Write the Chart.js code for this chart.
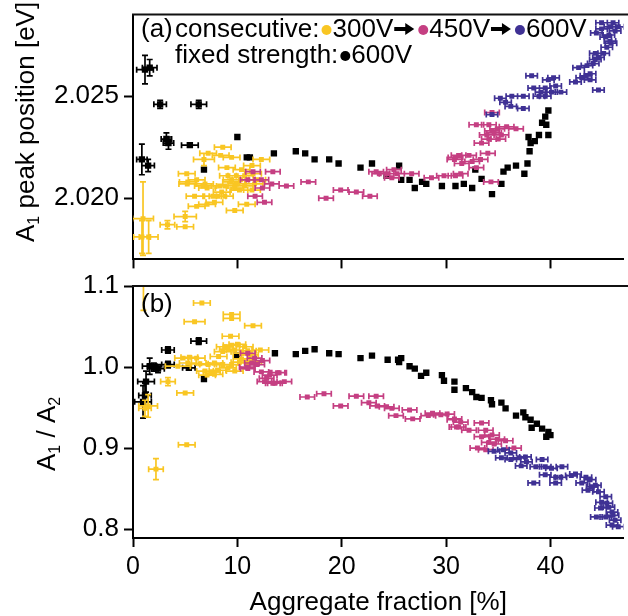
<!DOCTYPE html>
<html>
<head>
<meta charset="utf-8">
<script src="https://cdn.jsdelivr.net/npm/chart.js@4.4.1/dist/chart.umd.min.js"></script>
<style>
  html, body { margin: 0; padding: 0; background: #fff; }
  #wrap { position: relative; width: 628px; height: 616px; overflow: hidden; }
  #wrap canvas { position: absolute; left: 0; }
  #topChart { top: -6px; }
  #bottomChart { top: 264px; }
</style>
</head>
<body>
<div id="wrap">
  <canvas id="topChart" width="628" height="286"></canvas>
  <canvas id="bottomChart" width="628" height="352"></canvas>
</div>
<script>
// ==============================
// Data: [aggregate %, value, x error, y error]
// ==============================
const xTicks = [0, 10, 20, 30, 40];
const topYTicks = [2.020, 2.025];
const bottomYTicks = [0.8, 0.9, 1.0, 1.1];

// (a) A1 peak position [eV]
const topBlack = [
  [1.15, 2.0263, 0.8, 0.0007], [1.6, 2.0264, 0.7, 0.0004], [2.6, 2.0246, 0.6, 0.0002],
  [6.3, 2.0246, 0.75, 0.0002], [3.2, 2.0229, 0.5, 0.0003], [3.4, 2.0227, 0.5, 0.0003],
  [5.45, 2.0226, 0.8, 0.0001], [0.85, 2.0219, 0.5, 0.00075], [1.45, 2.0216, 0.6, 0.0003],
  [10.0, 2.0230], [6.8, 2.0214], [10.9, 2.0220], [11.2, 2.0220], [13.5, 2.0222],
  [15.6, 2.0223], [16.5, 2.0222], [17.4, 2.0219], [18.8, 2.0219], [19.7, 2.0217],
  [21.8, 2.0215], [22.9, 2.0217], [24.3, 2.0211], [25.5, 2.0216], [25.7, 2.0209],
  [26.5, 2.0209], [27.0, 2.0205], [27.7, 2.0208], [28.1, 2.0207], [29.6, 2.0206],
  [30.9, 2.0206], [31.7, 2.0207], [32.5, 2.0205], [32.8, 2.0214], [33.4, 2.02095],
  [34.4, 2.0202], [35.3, 2.0207], [35.5, 2.0213], [35.9, 2.0215], [36.7, 2.0216],
  [37.5, 2.0212], [37.8, 2.0217], [38.0, 2.0223], [38.1, 2.0227], [37.9, 2.0230],
  [38.5, 2.0228], [38.9, 2.0231], [39.8, 2.0231], [39.2, 2.0237], [39.6, 2.0236],
  [39.5, 2.0240], [39.8, 2.0243]
];
const topYellow = [
  [0.96, 2.0190, 1.0, 0.0018], [0.86, 2.0181, 0.8, 0.0008], [1.5, 2.0181, 0.9, 0.0008],
  [3.3, 2.0187, 0.7, 0.0002], [5.0, 2.0191, 1.07, 0.00025], [5.0, 2.0186],
  [6.1, 2.0196], [7.1, 2.0197], [7.8, 2.0198], [5.9, 2.0201], [7.65, 2.0201],
  [8.8, 2.0201], [8.1, 2.0201], [9.75, 2.0194], [10.9, 2.0197], [5.15, 2.0212],
  [5.25, 2.0208], [5.2, 2.0207], [6.1, 2.0209], [6.9, 2.0207], [6.7, 2.0206],
  [6.8, 2.0219, 1.0, 0.0003], [7.2, 2.0222], [8.6, 2.0225], [8.4, 2.0221], [9.45, 2.0220],
  [9.0, 2.0215], [10.4, 2.0214], [11.4, 2.0216], [12.3, 2.0219], [8.8, 2.0206],
  [9.1, 2.0211], [9.45, 2.0209], [9.9, 2.0207], [9.75, 2.0205], [10.2, 2.0204],
  [10.7, 2.0206], [11.4, 2.0204], [11.65, 2.0207], [11.5, 2.0212], [10.7, 2.0211],
  [9.9, 2.0211], [11.9, 2.0209], [7.1, 2.0205], [8.3, 2.0206], [9.4, 2.0208],
  [10.3, 2.0209], [8.5, 2.0203]
];
const topMagenta = [
  [11.5, 2.0213], [13.4, 2.0213], [11.0, 2.0209], [12.3, 2.0209], [12.4, 2.0205],
  [13.3, 2.0207], [14.7, 2.0206], [16.8, 2.0208], [11.7, 2.0201], [12.6, 2.0198],
  [19.9, 2.0204], [21.4, 2.0203], [18.5, 2.0200], [22.7, 2.0201], [23.3, 2.0213],
  [23.6, 2.0212], [24.3, 2.0212], [24.8, 2.0210], [25.0, 2.0214], [25.3, 2.0212],
  [26.7, 2.0212], [28.6, 2.0210], [29.8, 2.0211], [30.9, 2.0211], [31.4, 2.0212],
  [30.8, 2.0219], [34.3, 2.0208], [30.9, 2.0220], [31.2, 2.0221], [32.2, 2.0221],
  [31.5, 2.0217], [32.5, 2.0218], [33.3, 2.0219], [34.0, 2.0222], [32.9, 2.0215],
  [33.4, 2.0227], [34.1, 2.0229], [32.9, 2.0236], [34.1, 2.0236], [34.4, 2.0233],
  [34.9, 2.0234], [35.3, 2.0231], [35.8, 2.0235], [36.7, 2.0234], [33.9, 2.0231],
  [34.4, 2.0242], [35.0, 2.0229], [34.6, 2.0232]
];
const topBlue = [
  [34.4, 2.0241], [35.2, 2.0249], [35.7, 2.0247], [36.2, 2.0245], [36.3, 2.0250],
  [37.4, 2.0244], [37.4, 2.0250], [38.4, 2.0254], [38.2, 2.0260], [39.1, 2.0252],
  [38.9, 2.0250], [39.5, 2.0254], [39.8, 2.0258], [40.3, 2.0259], [40.1, 2.0252],
  [41.0, 2.0252], [40.5, 2.0255], [39.5, 2.0250], [42.4, 2.0257], [43.0, 2.0259],
  [43.8, 2.0258], [44.6, 2.0253], [43.8, 2.0261], [42.7, 2.0264], [43.5, 2.0265],
  [44.1, 2.0266], [44.6, 2.0269], [45.1, 2.0271], [44.3, 2.0271], [45.4, 2.0274],
  [45.7, 2.0277], [45.6, 2.0280], [44.9, 2.0283], [45.7, 2.0284], [46.5, 2.0284],
  [46.2, 2.0282], [44.9, 2.0286], [44.4, 2.0281], [45.8, 2.0276], [44.3, 2.0268],
  [43.4, 2.0260], [46.0, 2.0286], [45.3, 2.0279]
];

// (b) A1 / A2
const bottomBlack = [
  [0.96, 0.957, 0.8, 0.02], [1.25, 0.982, 0.8, 0.013], [1.6, 1.001, 0.7, 0.01],
  [1.15, 0.965, 0.6, 0.015], [2.4, 0.998, 0.6, 0.005], [2.0, 1.0, 0.6, 0.005],
  [3.35, 1.003, 0.6, 0.004], [3.35, 1.021, 0.6, 0.004], [6.3, 1.032, 0.75, 0.004],
  [5.35, 0.999, 0.6], [6.8, 0.985], [9.95, 1.014], [13.6, 1.017], [15.6, 1.016],
  [16.5, 1.020], [17.4, 1.022], [18.8, 1.017], [19.7, 1.016], [21.8, 1.011],
  [22.9, 1.014], [24.4, 1.009], [25.5, 1.006], [25.7, 1.011], [25.4, 1.009],
  [26.5, 1.001], [27.0, 0.998], [27.6, 0.989], [28.1, 0.993], [29.6, 0.990],
  [29.8, 0.983], [30.8, 0.982], [30.8, 0.972], [31.9, 0.974], [32.5, 0.969],
  [32.9, 0.963], [33.4, 0.962], [34.3, 0.959], [34.4, 0.954], [35.3, 0.956],
  [35.7, 0.949], [36.7, 0.940], [37.4, 0.944], [37.6, 0.938], [38.1, 0.935],
  [38.2, 0.925], [38.7, 0.930], [39.2, 0.924], [39.8, 0.920], [39.6, 0.914],
  [40.0, 0.916]
];
const bottomYellow = [
  [1.0, 1.13, 0.6, 0.06], [6.6, 1.079], [5.9, 1.056, 1.0], [9.45, 1.065], [9.45, 1.060],
  [11.5, 1.051], [9.35, 1.038], [8.8, 1.025], [9.45, 1.027], [10.0, 1.028],
  [10.7, 1.025], [8.6, 1.019], [9.75, 1.021], [10.4, 1.017], [11.2, 1.015],
  [12.2, 1.021], [4.8, 1.011], [5.4, 1.012], [6.1, 1.011], [5.25, 1.005],
  [6.4, 1.004], [7.2, 1.003], [7.8, 1.005], [8.6, 1.003], [9.45, 1.003],
  [10.2, 1.006], [10.9, 1.005], [11.5, 1.007], [4.3, 1.001, 1.2], [6.9, 0.995],
  [7.55, 0.994], [8.1, 0.996], [7.1, 0.990], [7.8, 0.991], [9.1, 0.999],
  [9.75, 0.995], [3.35, 0.982, 0.7, 0.005], [5.0, 0.968], [1.45, 0.952, 0.9, 0.014],
  [1.15, 0.949, 0.6, 0.01], [5.15, 0.904], [2.2, 0.874, 0.7, 0.013], [9.1, 1.022],
  [10.4, 1.010], [11.0, 1.020], [8.2, 1.013]
];
const bottomMagenta = [
  [11.0, 1.017], [11.65, 1.011], [11.4, 1.005], [10.9, 1.0], [11.9, 1.003],
  [12.3, 0.994], [13.1, 0.990], [13.85, 0.993], [12.6, 0.982], [13.6, 0.980],
  [14.5, 0.982], [12.4, 1.008], [11.0, 0.998], [14.0, 0.993], [12.8, 0.986],
  [13.4, 0.980], [16.7, 0.963], [18.3, 0.967], [19.9, 0.952], [21.4, 0.964],
  [22.6, 0.956], [23.3, 0.964], [23.4, 0.952], [24.3, 0.951], [24.8, 0.949],
  [25.2, 0.940], [26.5, 0.947], [26.8, 0.936], [28.3, 0.940], [28.7, 0.943],
  [29.5, 0.941], [30.1, 0.942], [30.8, 0.936], [31.0, 0.926], [30.8, 0.935],
  [31.4, 0.932], [31.2, 0.926], [32.2, 0.922], [33.4, 0.931], [33.8, 0.922],
  [33.4, 0.914], [34.4, 0.916], [34.9, 0.911], [34.1, 0.907], [33.0, 0.900],
  [33.8, 0.898], [35.7, 0.909], [36.5, 0.900], [34.6, 0.905]
];
const bottomBlue = [
  [34.6, 0.896], [35.5, 0.898], [36.2, 0.894], [35.3, 0.888], [36.2, 0.886],
  [37.0, 0.888], [37.6, 0.889], [37.2, 0.878], [37.7, 0.883], [39.2, 0.886],
  [38.6, 0.877], [39.5, 0.877], [40.1, 0.875], [41.1, 0.877], [39.5, 0.867],
  [40.5, 0.864], [41.0, 0.864], [38.4, 0.857], [40.5, 0.857], [42.4, 0.868],
  [43.4, 0.864], [43.8, 0.861], [43.0, 0.857], [44.3, 0.854], [43.6, 0.848],
  [44.6, 0.846], [45.3, 0.840], [44.9, 0.833], [45.6, 0.827], [45.9, 0.821],
  [44.8, 0.826], [44.4, 0.815], [45.3, 0.815], [46.2, 0.811], [46.5, 0.803],
  [45.9, 0.805], [45.4, 0.832], [46.0, 0.817], [42.0, 0.866], [44.0, 0.852]
];

// ==============================
// Styles
// ==============================
const FONT = '"Liberation Sans", Arial, Helvetica, sans-serif';
const YELLOW = '#F9C623';
const MAGENTA = '#C53F82';
const BLUE = '#3F3194';
const BLACK = '#000000';

// ==============================
// Helpers
// ==============================
const toPoints = (rows, xe) => rows.map(([x, y, ex = xe, ey = 0]) => ({ x, y, ex, ey }));

const series = (rows, color, xe, radius, order) => ({
  data: toPoints(rows, xe),
  pointStyle: 'rect',
  pointRadius: radius,
  pointBackgroundColor: color,
  pointBorderColor: color,
  pointBorderWidth: 0,
  borderColor: color,
  showLine: false,
  order
});

const axisLook = {
  grid: { display: true, drawOnChartArea: false, drawTicks: true, tickLength: 9, tickWidth: 2, tickColor: '#000' },
  border: { display: true, color: '#000', width: 2 }
};

const xTickFont = { family: FONT, size: 25 };
const yTickFont = { family: FONT, size: 26 };

// error bars drawn under each dataset, through the chart scales
const errorBars = {
  id: 'errorBars',
  beforeDatasetDraw(chart, args) {
    const { ctx, chartArea: a, scales: { x, y } } = chart;
    const ds = chart.data.datasets[args.index];
    ctx.save();
    ctx.beginPath();
    ctx.rect(a.left, a.top, a.right - a.left, a.bottom - a.top);
    ctx.clip();
    ctx.strokeStyle = ds.borderColor;
    ctx.lineWidth = 1.7;
    ctx.beginPath();
    ds.data.forEach(p => {
      const px = x.getPixelForValue(p.x);
      const py = y.getPixelForValue(p.y);
      if (p.ex) {
        const l = x.getPixelForValue(p.x - p.ex), r = x.getPixelForValue(p.x + p.ex);
        ctx.moveTo(l, py); ctx.lineTo(r, py);
        ctx.moveTo(l, py - 3); ctx.lineTo(l, py + 3);
        ctx.moveTo(r, py - 3); ctx.lineTo(r, py + 3);
      }
      if (p.ey) {
        const t = y.getPixelForValue(p.y + p.ey), b = y.getPixelForValue(p.y - p.ey);
        ctx.moveTo(px, t); ctx.lineTo(px, b);
        ctx.moveTo(px - 3, t); ctx.lineTo(px + 3, t);
        ctx.moveTo(px - 3, b); ctx.lineTo(px + 3, b);
      }
    });
    ctx.stroke();
    ctx.restore();
  }
};

// top border of each panel
const frame = {
  id: 'frame',
  afterDraw(chart) {
    const { ctx, chartArea: a } = chart;
    ctx.save();
    ctx.strokeStyle = '#111';
    ctx.lineWidth = 2;
    ctx.beginPath();
    ctx.moveTo(a.left - 1, a.top);
    ctx.lineTo(chart.width, a.top);
    ctx.stroke();
    ctx.restore();
  }
};

// text runs with subscripts, e.g. A₁
const drawRuns = (ctx, runs, x, y, size) => {
  let pos = x;
  runs.forEach(([text, sub]) => {
    ctx.font = `${sub ? Math.round(size * 0.6) : size}px ${FONT}`;
    ctx.fillText(text, pos, sub ? y + size * 0.2 : y);
    pos += ctx.measureText(text).width;
  });
};

const yTitle = (runs, x, y) => ({
  id: 'yTitle',
  afterDraw(chart) {
    const { ctx } = chart;
    ctx.save();
    ctx.fillStyle = '#000';
    ctx.textBaseline = 'alphabetic';
    ctx.translate(x, y);
    ctx.rotate(-Math.PI / 2);
    drawRuns(ctx, runs, 0, 0, 26);
    ctx.restore();
  }
});

const dot = (ctx, x, y, color) => {
  ctx.fillStyle = color;
  ctx.beginPath();
  ctx.arc(x, y, 5, 0, Math.PI * 2);
  ctx.fill();
};

// heavy arrow between the legend steps
const arrow = (ctx, x, y) => {
  ctx.save();
  ctx.fillStyle = '#000';
  ctx.fillRect(x, y - 2, 12, 4);
  ctx.beginPath();
  ctx.moveTo(x + 11, y - 6);
  ctx.lineTo(x + 20, y);
  ctx.lineTo(x + 11, y + 6);
  ctx.closePath();
  ctx.fill();
  ctx.restore();
};

// legend of panel (a), in canvas coordinates (canvas starts 6px above the page)
const legendText = {
  id: 'legendText',
  afterDraw(chart) {
    const { ctx } = chart;
    const font = `26px ${FONT}`;
    const base1 = 43, base2 = 69;
    ctx.save();
    ctx.textBaseline = 'alphabetic';
    ctx.fillStyle = '#000';
    ctx.font = font;
    ctx.fillText('(a)', 141, base1);
    ctx.fillText('consecutive:', 175, base1);
    let pos = 175 + ctx.measureText('consecutive:').width + 2;
    const steps = [['300V', YELLOW], ['450V', MAGENTA], ['600V', BLUE]];
    steps.forEach(([label, color], i) => {
      dot(ctx, pos + 5, base1 - 7, color);
      pos += 11;
      ctx.fillStyle = '#000';
      ctx.font = font;
      ctx.fillText(label, pos, base1);
      pos += ctx.measureText(label).width + 1;
      if (i < steps.length - 1) {
        arrow(ctx, pos, base1 - 8);
        pos += 24;
      }
    });
    ctx.font = font;
    ctx.fillStyle = '#000';
    ctx.fillText('fixed strength:', 175, base2);
    pos = 175 + ctx.measureText('fixed strength:').width + 2;
    dot(ctx, pos + 5, base2 - 7, BLACK);
    ctx.fillStyle = '#000';
    ctx.fillText('600V', pos + 11, base2);
    ctx.restore();
  }
};

const panelB = {
  id: 'panelB',
  afterDraw(chart) {
    const { ctx } = chart;
    ctx.save();
    ctx.fillStyle = '#000';
    ctx.font = `26px ${FONT}`;
    ctx.fillText('(b)', 141, 48);
    ctx.restore();
  }
};

const fixedTicks = values => scale => { scale.ticks = values.map(v => ({ value: v })); };

// ==============================
// Charts
// ==============================
Chart.defaults.font.family = FONT;
Chart.defaults.color = '#000';

new Chart(document.getElementById('topChart'), {
  type: 'scatter',
  data: {
    datasets: [
      series(topBlack, BLACK, 0, 4.5, 4),
      series(topYellow, YELLOW, 0.8, 3.5, 3),
      series(topMagenta, MAGENTA, 0.7, 3.5, 2),
      series(topBlue, BLUE, 0.55, 3.5, 1)
    ]
  },
  options: {
    responsive: false,
    animation: false,
    events: [],
    layout: { padding: { top: 20, right: 2, left: 0, bottom: 0 } },
    plugins: { legend: { display: false }, tooltip: { enabled: false } },
    scales: {
      x: {
        type: 'linear', min: 0, max: 47,
        afterBuildTicks: fixedTicks(xTicks),
        ticks: { display: false },
        afterFit: s => { s.height = 14; },
        ...axisLook
      },
      y: {
        type: 'linear', min: 2.017, max: 2.029,
        afterBuildTicks: fixedTicks(topYTicks),
        ticks: { font: yTickFont, color: '#000', padding: 5, callback: v => v.toFixed(3) },
        afterFit: s => { s.width = 133; },
        ...axisLook
      }
    }
  },
  plugins: [errorBars, frame, legendText, yTitle([['A'], ['1', true], [' peak position [eV]']], 34, 248)]
});

new Chart(document.getElementById('bottomChart'), {
  type: 'scatter',
  data: {
    datasets: [
      series(bottomBlack, BLACK, 0, 4.5, 4),
      series(bottomYellow, YELLOW, 0.8, 3.5, 3),
      series(bottomMagenta, MAGENTA, 0.7, 3.5, 2),
      series(bottomBlue, BLUE, 0.55, 3.5, 1)
    ]
  },
  options: {
    responsive: false,
    animation: false,
    events: [],
    layout: { padding: { top: 22, right: 2, left: 0, bottom: 0 } },
    plugins: { legend: { display: false }, tooltip: { enabled: false } },
    scales: {
      x: {
        type: 'linear', min: 0, max: 47,
        afterBuildTicks: fixedTicks(xTicks),
        ticks: { font: xTickFont, color: '#000', padding: 5, maxRotation: 0, callback: v => String(v) },
        title: { display: true, text: 'Aggregate fraction [%]', font: { family: FONT, size: 26, lineHeight: 1.0 }, color: '#000', padding: 0 },
        afterFit: s => { s.height = 78; },
        ...axisLook
      },
      y: {
        type: 'linear', min: 0.789, max: 1.1,
        afterBuildTicks: fixedTicks(bottomYTicks),
        ticks: { font: yTickFont, color: '#000', padding: 5, callback: v => v.toFixed(1) },
        afterFit: s => { s.width = 133; },
        ...axisLook
      }
    }
  },
  plugins: [errorBars, frame, panelB, yTitle([['A'], ['1', true], [' / A'], ['2', true]], 55, 207)]
});
</script>
</body>
</html>
